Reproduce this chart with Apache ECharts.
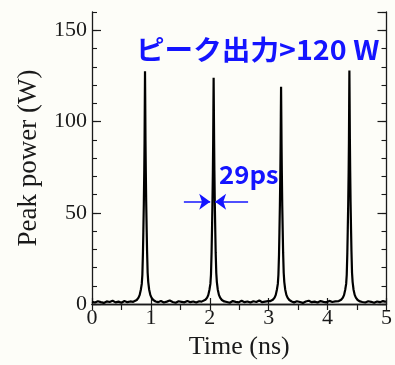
<!DOCTYPE html>
<html>
<head>
<meta charset="utf-8">
<script src="https://cdn.jsdelivr.net/npm/echarts@6/dist/echarts.min.js"></script>
<style>
html,body{margin:0;padding:0;background:#fdfdf8;}
#chart{width:395px;height:365px;}
</style>
</head>
<body>
<div id="chart"></div>
<script>
// ---- data (time in ns, peak power in W) ----
const xTicks = [0, 1, 2, 3, 4, 5];
const yTicks = [0, 50, 100, 150];

const base0 = [[0.00,1.2],[0.05,0.8],[0.10,1.5],[0.15,1.0],[0.20,0.6],[0.25,1.4],[0.30,1.1],[0.35,1.8],[0.40,0.9],[0.45,1.3],[0.50,0.7],[0.55,1.6],[0.60,1.0],[0.65,1.4],[0.70,1.2]];
const pulse1 = [[0.72,1.5],[0.76,2.2],[0.79,3.5],[0.81,5],[0.83,8],[0.845,11],[0.855,16],[0.865,28],[0.872,40],[0.88,55],[0.887,72],[0.892,88],[0.896,108],[0.900,127.5],[0.904,110],[0.908,90],[0.913,74],[0.92,56],[0.928,41],[0.935,29],[0.945,17],[0.955,12],[0.97,8],[0.99,5],[1.01,3.5],[1.04,2.2],[1.08,1.4]];
const base1 = [[1.12,1.0],[1.17,1.6],[1.22,0.8],[1.27,1.3],[1.32,1.9],[1.37,1.1],[1.42,0.7],[1.47,1.5],[1.52,1.2],[1.57,0.9],[1.62,1.7],[1.67,1.0],[1.72,1.4],[1.77,0.8],[1.82,1.5],[1.86,1.3]];
const pulse2 = [[1.885,1.6],[1.925,2.3],[1.955,3.5],[1.975,5],[1.995,8],[2.01,11],[2.02,16],[2.03,28],[2.037,40],[2.045,55],[2.052,72],[2.057,88],[2.061,106],[2.065,124],[2.069,107],[2.073,90],[2.078,73],[2.085,55],[2.093,40],[2.10,28],[2.11,17],[2.12,12],[2.135,8],[2.155,5],[2.175,3.5],[2.205,2.2],[2.245,1.4]];
const base2 = [[2.29,1.1],[2.34,0.7],[2.39,1.6],[2.44,1.2],[2.49,0.9],[2.54,1.8],[2.59,1.0],[2.64,1.4],[2.69,0.8],[2.74,1.5],[2.79,1.1],[2.84,1.9],[2.89,1.0],[2.94,1.3],[2.99,1.6]];
const pulse3 = [[3.03,1.6],[3.07,2.3],[3.10,3.5],[3.12,5],[3.14,8],[3.155,11],[3.165,16],[3.175,27],[3.182,39],[3.19,54],[3.197,70],[3.202,86],[3.206,103],[3.21,119],[3.214,104],[3.218,88],[3.223,72],[3.23,54],[3.238,40],[3.245,28],[3.255,17],[3.265,12],[3.28,8],[3.30,5],[3.32,3.5],[3.35,2.2],[3.39,1.4]];
const base3 = [[3.43,0.9],[3.48,1.5],[3.53,1.1],[3.58,0.6],[3.63,1.4],[3.68,1.8],[3.73,1.0],[3.78,1.3],[3.83,0.8],[3.88,1.6],[3.93,1.2],[3.98,0.9],[4.03,1.7],[4.08,1.1],[4.13,1.4]];
const pulse4 = [[4.19,1.6],[4.23,2.3],[4.26,3.5],[4.28,5],[4.30,8],[4.315,11],[4.325,16],[4.335,28],[4.342,40],[4.35,55],[4.357,72],[4.362,88],[4.366,108],[4.37,128],[4.374,110],[4.378,91],[4.383,74],[4.39,56],[4.398,41],[4.405,29],[4.415,17],[4.425,12],[4.44,8],[4.46,5],[4.48,3.5],[4.51,2.2],[4.55,1.4]];
const base4 = [[4.59,1.1],[4.64,0.8],[4.69,1.5],[4.74,1.2],[4.79,0.7],[4.84,1.4],[4.89,1.0],[4.94,1.6],[4.99,1.2]];

// FWHM annotation (ns, W)
const fwhmLeft = [[1.56,56],[2.007,56]];
const fwhmRight = [[2.65,56],[2.09,56]];
const titleText = 'ピーク出力>120 W';
const fwhmText = '29ps';

const signal = [].concat(base0,pulse1,base1,pulse2,base2,pulse3,base3,pulse4,base4);

const serif = '"Liberation Serif", "Times New Roman", serif';
const ink = '#1a1a1a';
const blue = '#1414ff';

const chart = echarts.init(document.getElementById('chart'), null, {renderer:'canvas'});
const axisLine = {show:true, lineStyle:{color:ink, width:1.3}};
chart.setOption({
  backgroundColor:'#fdfdf8',
  animation:false,
  grid:{left:92, right:5, top:12, bottom:57},
  xAxis:[
    {type:'value', min:xTicks[0], max:xTicks[xTicks.length-1], interval:1, position:'bottom',
     axisLine:axisLine, splitLine:{show:false},
     axisTick:{show:true, inside:true, length:6, lineStyle:{color:ink, width:1.2}},
     axisLabel:{margin:3, fontFamily:serif, fontSize:22, color:ink},
     name:'Time (ns)', nameLocation:'middle', nameGap:30,
     nameTextStyle:{fontFamily:serif, fontSize:26, color:ink}},
    {type:'value', min:xTicks[0], max:xTicks[xTicks.length-1], interval:0.5, position:'top',
     axisLine:axisLine, splitLine:{show:false},
     axisTick:{show:true, inside:true, length:6, lineStyle:{color:ink, width:1.2}},
     axisLabel:{show:false}}
  ],
  yAxis:[
    {type:'value', min:0, max:160, interval:50, position:'left',
     axisLine:axisLine, splitLine:{show:false},
     axisTick:{show:true, inside:true, length:9, lineStyle:{color:ink, width:1.2}},
     axisLabel:{margin:5, fontFamily:serif, fontSize:22, color:ink, showMaxLabel:false,
       formatter:function(v){return yTicks.indexOf(v)>=0 ? String(v) : '';}},
     name:'Peak power (W)', nameLocation:'middle', nameGap:50,
     nameTextStyle:{fontFamily:serif, fontSize:27, color:ink}},
    {type:'value', min:0, max:160, interval:10, position:'left',
     axisLine:{show:false}, splitLine:{show:false},
     axisTick:{show:true, inside:true, length:5, lineStyle:{color:ink, width:1.1}},
     axisLabel:{show:false}},
    {type:'value', min:0, max:160, interval:50, position:'right',
     axisLine:axisLine, splitLine:{show:false},
     axisTick:{show:true, inside:true, length:9, lineStyle:{color:ink, width:1.2}},
     axisLabel:{show:false}},
    {type:'value', min:0, max:160, interval:10, position:'right',
     axisLine:{show:false}, splitLine:{show:false},
     axisTick:{show:true, inside:true, length:5, lineStyle:{color:ink, width:1.1}},
     axisLabel:{show:false}}
  ],
  series:[{
    type:'line', data:signal, xAxisIndex:0, yAxisIndex:0,
    showSymbol:false, symbol:'none',
    lineStyle:{color:'#000', width:2.2},
    markLine:{
      silent:true, animation:false,
      symbol:['none','arrow'], symbolSize:[12,11],
      label:{show:false},
      lineStyle:{color:blue, width:1.5, type:'solid'},
      data:[
        [{coord:fwhmLeft[0]},{coord:fwhmLeft[1]}],
        [{coord:fwhmRight[0]},{coord:fwhmRight[1]}]
      ]
    }
  }],
  graphic:[
    {type:'text', x:136, y:36, scaleX:1.06, style:{text:titleText, fontFamily:'"Noto Sans CJK JP", sans-serif', fontWeight:'bold', fontSize:27, fill:blue}},
    {type:'text', x:219, y:162, scaleX:1.03, style:{text:fwhmText, fontFamily:'"Noto Sans CJK JP", "Noto Sans", sans-serif', fontWeight:'bold', fontSize:25, fill:blue}}
  ]
});
</script>
</body>
</html>
